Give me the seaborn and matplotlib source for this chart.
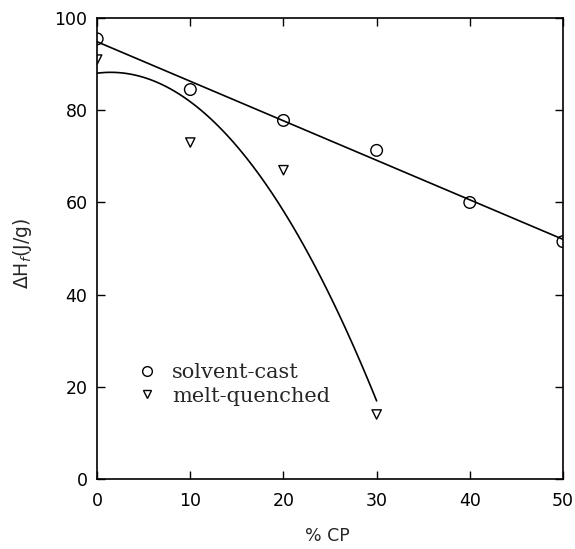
import numpy as np
import pandas as pd
import matplotlib
matplotlib.use("Agg")
import matplotlib.pyplot as plt
import seaborn as sns
from matplotlib.lines import Line2D

# Heat of fusion vs. CP content
pct_cp_solvent = [0, 10, 20, 30, 40, 50]
dh_solvent_cast = [95.5, 84.5, 77.8, 71.3, 60.0, 51.5]

pct_cp_melt = [0, 10, 20, 30]
dh_melt_quenched = [91.0, 73.0, 67.0, 14.0]

x_ticks = [0, 10, 20, 30, 40, 50]
y_ticks = [0, 20, 40, 60, 80, 100]

sns.set_style("ticks")
plt.rcParams["font.family"] = ["DejaVu Sans"]
plt.rcParams["mathtext.fontset"] = "dejavusans"

solvent = pd.DataFrame({"cp": pct_cp_solvent, "dh": dh_solvent_cast})
melt = pd.DataFrame({"cp": pct_cp_melt, "dh": dh_melt_quenched})

fig = plt.figure(figsize=(5.75, 5.49), dpi=100)
ax = fig.add_axes([0.169, 0.1275, 0.81, 0.8395])

# fitted curves: linear for solvent-cast, quadratic for melt-quenched
sns.regplot(data=solvent, x="cp", y="dh", order=1, ci=None, scatter=False,
            ax=ax, line_kws=dict(color="black", lw=1.2))
sns.regplot(data=melt, x="cp", y="dh", order=2, ci=None, scatter=False,
            ax=ax, line_kws=dict(color="black", lw=1.2))

sns.scatterplot(data=solvent, x="cp", y="dh", marker="o", s=70,
                facecolor="none", edgecolor="black", linewidth=1.0, ax=ax, zorder=5)
sns.scatterplot(data=melt, x="cp", y="dh", marker="v", s=45,
                facecolor="none", edgecolor="black", linewidth=1.0, ax=ax, zorder=5)

ax.set_xlim(0, 50)
ax.set_ylim(0, 100)
ax.set_xticks(x_ticks)
ax.set_yticks(y_ticks)
ax.tick_params(direction="in", length=6, width=1.0, labelsize=12.5,
               top=True, right=True, pad=7, colors="black")
ax.tick_params(axis="x", pad=9)
for side in ["left", "right", "top", "bottom"]:
    ax.spines[side].set_visible(True)
    ax.spines[side].set_linewidth(1.2)
    ax.spines[side].set_color("black")

ax.set_xlabel("% CP", fontsize=12.5)
ax.set_ylabel(r"$\Delta$H$_f$(J/g)", fontsize=13.5)
ax.xaxis.set_label_coords(0.495, -0.105)
ax.yaxis.set_label_coords(-0.135, 0.49)

handles = [
    Line2D([], [], marker="o", ls="none", mfc="none", mec="black", ms=7, mew=1.0),
    Line2D([], [], marker="v", ls="none", mfc="none", mec="black", ms=6, mew=1.0),
]
ax.legend(handles, ["solvent-cast", "melt-quenched"], loc="center left",
          bbox_to_anchor=(0.045, 0.205), frameon=False, handlelength=1.0,
          handletextpad=0.7, labelspacing=0.2,
          prop=dict(family="DejaVu Serif", size=15))

fig.savefig("out.png", dpi=100)
